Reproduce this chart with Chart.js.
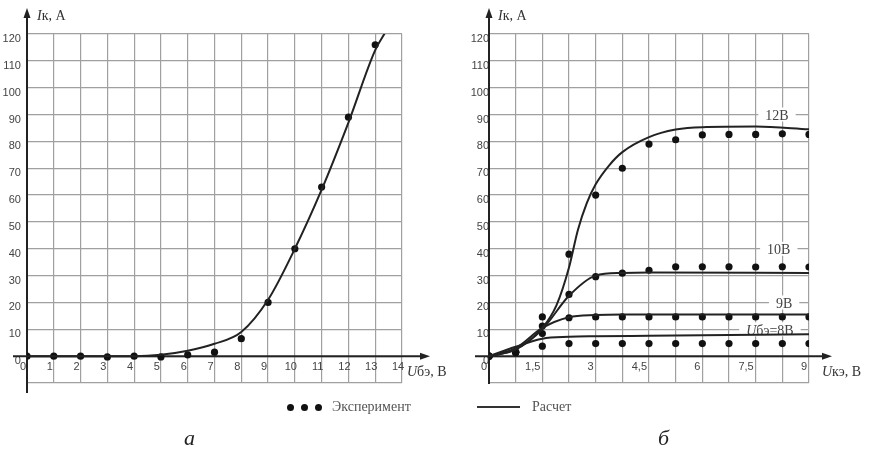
<!DOCTYPE html>
<html>
<head>
<meta charset="utf-8">
<script src="https://cdn.jsdelivr.net/npm/chart.js@4.4.1/dist/chart.umd.min.js"></script>
<style>
  body { margin: 0; background: #fff; width: 870px; height: 452px; position: relative; overflow: hidden;
         font-family: "Liberation Serif", "Times New Roman", serif; }
  canvas { position: absolute; top: 0; }
  #chartA { left: 0; }
  #chartB { left: 440px; }
  .dot { position: absolute; top: 404px; width: 7px; height: 7px; border-radius: 50%; background: #111; }
  .leg { position: absolute; top: 399px; font-size: 14px; line-height: 16px; color: #555; }
  .cap { position: absolute; top: 425px; font-size: 22px; font-style: italic; color: #222; }
</style>
</head>
<body>
<canvas id="chartA" width="460" height="452"></canvas>
<canvas id="chartB" width="430" height="452"></canvas>

<span class="dot" style="left:287px"></span>
<span class="dot" style="left:301px"></span>
<span class="dot" style="left:315px"></span>
<div class="leg" style="left:332px">Эксперимент</div>
<div style="position:absolute;left:477px;top:406px;width:43px;height:2px;background:#333"></div>
<div class="leg" style="left:532px">Расчет</div>
<div class="cap" style="left:184px">а</div>
<div class="cap" style="left:658px">б</div>

<script>
// (а) Iк от Uбэ
const aExpX = [0, 1, 2, 3, 4, 5, 6, 7, 8, 9, 10, 11, 12, 13];
const aExpY = [0, 0, 0, -0.3, 0, -0.3, 0.5, 1.5, 6.5, 20, 40, 63, 89, 116];
const aCalcX = [0, 1, 2, 3, 4, 5, 6, 7, 8, 9, 10, 11, 12, 13, 13.4];
const aCalcY = [0, 0, 0, 0, 0, 0.5, 2, 4.6, 9, 21, 40, 62, 87, 114, 121];

// (б) Iк от Uкэ при разных Uбэ
const bExpX = [0, 0.75, 1.5, 2.25, 3, 3.75, 4.5, 5.25, 6, 6.75, 7.5, 8.25, 9];
const bExp12 = [0, 1.5, 14.6, 38, 60, 70, 79, 80.6, 82.4, 82.6, 82.6, 82.8, 82.6];
const bExp10 = [0, 1.5, 11.2, 23, 29.6, 30.9, 32, 33.3, 33.3, 33.3, 33.2, 33.3, 33.2];
const bExp9 = [0, 1.5, 8.4, 14.3, 14.6, 14.6, 14.6, 14.6, 14.6, 14.6, 14.6, 14.6, 14.6];
const bExp8 = [0, 1.5, 3.7, 4.7, 4.7, 4.7, 4.7, 4.7, 4.7, 4.7, 4.7, 4.7, 4.7];

const bCalc12X = [0, 0.75, 1.5, 1.9, 2.25, 2.5, 2.75, 3, 3.375, 3.75, 4.5, 5.25, 6, 7.5, 9];
const bCalc12Y = [0, 2.5, 10.5, 19, 33, 47, 57, 64, 71, 76, 81.6, 84.4, 85.3, 85.5, 84.5];
const bCalc10X = [0, 0.75, 1.5, 2.25, 3, 3.75, 4.5, 9];
const bCalc10Y = [0, 2.5, 10, 22.5, 30, 31, 31.2, 31];
const bCalc9X = [0, 0.75, 1.5, 2.25, 3, 3.75, 9];
const bCalc9Y = [0, 3, 10.5, 14.5, 15.3, 15.5, 15.5];
const bCalc8X = [0, 0.75, 1.5, 2.25, 3, 4.5, 6, 9];
const bCalc8Y = [0, 3.5, 6.5, 7.2, 7.4, 7.6, 7.8, 8.2];

const curveNames = ['12В', '10В', '9В', 'Uбэ=8В'];
const curveLevels = [90, 40, 20, 10];

function pts(xs, ys) { return xs.map((x, i) => ({ x: x, y: ys[i] })); }

function calcSet(xs, ys) {
  return { data: pts(xs, ys), borderColor: '#222', borderWidth: 2, pointRadius: 0,
           cubicInterpolationMode: 'monotone', fill: false };
}
function expSet(xs, ys) {
  return { data: pts(xs, ys), showLine: false, pointRadius: 3.6, pointHoverRadius: 3.6,
           backgroundColor: '#111', borderWidth: 0 };
}

// draws text where parts may be italic
function richText(ctx, parts, x, y, size, align) {
  const fontOf = p => (p.i ? 'italic ' : '') + size + 'px "Liberation Serif", serif';
  let w = 0;
  parts.forEach(p => { ctx.font = fontOf(p); w += ctx.measureText(p.t).width; });
  let cx = align === 'center' ? x - w / 2 : x;
  ctx.textAlign = 'left';
  parts.forEach(p => { ctx.font = fontOf(p); ctx.fillText(p.t, cx, y); cx += ctx.measureText(p.t).width; });
  return w;
}
function splitU(s) {
  return (s[0] === 'U' || s[0] === 'I') ? [{ t: s[0], i: true }, { t: s.slice(1) }] : [{ t: s }];
}

const axesPlugin = {
  id: 'axes',
  beforeDatasetsDraw(chart, args, o) {
    const { ctx, chartArea: ca, scales: { x, y } } = chart;
    const x0 = x.getPixelForValue(0), y0 = y.getPixelForValue(0);
    ctx.save();
    ctx.strokeStyle = '#222'; ctx.fillStyle = '#222'; ctx.lineWidth = 2;
    // horizontal axis with arrow
    const xe = ca.right + o.xOver;
    ctx.beginPath(); ctx.moveTo(x0 - o.xBack, y0); ctx.lineTo(xe - 8, y0); ctx.stroke();
    ctx.beginPath(); ctx.moveTo(xe, y0); ctx.lineTo(xe - 10, y0 - 3.5); ctx.lineTo(xe - 10, y0 + 3.5); ctx.closePath(); ctx.fill();
    // vertical axis with arrow
    const ye = 8;
    ctx.beginPath(); ctx.moveTo(x0, ca.bottom + o.yBelow); ctx.lineTo(x0, ye + 8); ctx.stroke();
    ctx.beginPath(); ctx.moveTo(x0, ye); ctx.lineTo(x0 - 3.5, ye + 10); ctx.lineTo(x0 + 3.5, ye + 10); ctx.closePath(); ctx.fill();

    // curve names sitting on grid lines
    (o.names || []).forEach((n, i) => {
      const px = x.getPixelForValue(o.nameX[i]);
      const py = y.getPixelForValue(o.levels[i]);
      ctx.font = '14px "Liberation Serif", serif';
      const w = ctx.measureText(n).width;
      ctx.fillStyle = '#fff';
      ctx.fillRect(px - w / 2 - 7, py - 7, w + 14, 14);
      ctx.fillStyle = '#444';
      ctx.textBaseline = 'middle';
      richText(ctx, splitU(n), px, py + 2, 14, 'center');
    });
    ctx.restore();
  },
  afterDraw(chart, args, o) {
    const { ctx } = chart;
    ctx.save();
    ctx.fillStyle = '#333';
    ctx.textBaseline = 'alphabetic';
    richText(ctx, splitU(o.yTitle), o.yTitleX, 20, 14, 'left');
    richText(ctx, splitU(o.xTitle), o.xTitleX, 376, 14, 'left');
    ctx.restore();
  }
};

const tickFont = { family: '"Liberation Sans", Arial, sans-serif', size: 11 };

function makeOptions(cfg) {
  return {
    responsive: false,
    animation: false,
    events: [],
    layout: { padding: cfg.padding },
    plugins: { legend: { display: false }, tooltip: { enabled: false }, axes: cfg.axes },
    scales: {
      x: {
        type: 'linear', min: 0, max: cfg.xMax, position: { y: 0 },
        grid: { color: '#a0a0a0', lineWidth: 1.2, drawTicks: false },
        border: { display: false },
        ticks: { stepSize: cfg.xStep, autoSkip: false, maxRotation: 0, padding: 4,
                 align: cfg.xAlign, labelOffset: cfg.xOffset,
                 color: '#444', font: tickFont, callback: cfg.xLabel }
      },
      y: {
        type: 'linear', min: -10, max: 120, position: { x: 0 },
        grid: { color: '#a0a0a0', lineWidth: 1.2, drawTicks: false },
        border: { display: false },
        ticks: { stepSize: 10, autoSkip: false, labelOffset: 5,
                 color: '#444', font: tickFont, callback: v => (v < 0 ? '' : String(v) + cfg.yGap) }
      }
    }
  };
}

new Chart(document.getElementById('chartA'), {
  type: 'line',
  data: { datasets: [calcSet(aCalcX, aCalcY), expSet(aExpX, aExpY)] },
  options: makeOptions({
    padding: { left: 27, top: 34, right: 58, bottom: 69 },
    xMax: 14, xStep: 1, xAlign: 'center', xOffset: -4, yGap: '  ',
    xLabel: v => String(v),
    axes: { xOver: 28, xBack: 14, yBelow: 10, yTitle: 'Iк, А', yTitleX: 37, xTitle: 'Uбэ, В', xTitleX: 407 }
  }),
  plugins: [axesPlugin]
});

new Chart(document.getElementById('chartB'), {
  type: 'line',
  data: {
    datasets: [
      calcSet(bCalc12X, bCalc12Y), calcSet(bCalc10X, bCalc10Y),
      calcSet(bCalc9X, bCalc9Y), calcSet(bCalc8X, bCalc8Y),
      expSet(bExpX, bExp12), expSet(bExpX, bExp10), expSet(bExpX, bExp9), expSet(bExpX, bExp8)
    ]
  },
  options: makeOptions({
    padding: { left: 49, top: 34, right: 61, bottom: 69 },
    xMax: 9, xStep: 0.75, xAlign: 'end', xOffset: -2, yGap: '',
    xLabel: v => {
      const k = v / 1.5;
      return Math.abs(k - Math.round(k)) < 1e-6 ? String(+v.toFixed(2)).replace('.', ',') : '';
    },
    axes: { xOver: 23, xBack: 14, yBelow: 1, yTitle: 'Iк, А', yTitleX: 58, xTitle: 'Uкэ, В', xTitleX: 382,
            names: curveNames, levels: curveLevels, nameX: [8.1, 8.15, 8.3, 7.9] }
  }),
  plugins: [axesPlugin]
});
</script>
</body>
</html>
